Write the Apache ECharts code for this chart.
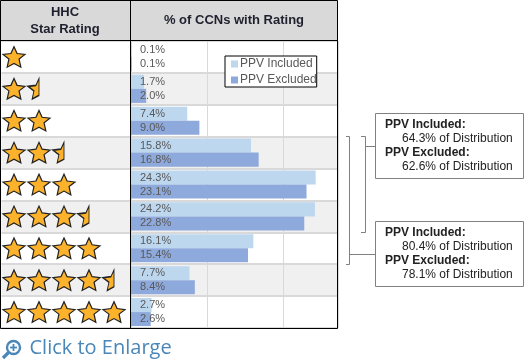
<!DOCTYPE html>
<html><head><meta charset="utf-8">
<style>html,body{margin:0;padding:0;background:#fff}#c{width:524px;height:361px}</style>
<script src="https://cdn.jsdelivr.net/npm/echarts@6/dist/echarts.min.js"></script>
</head><body><div id="c"></div>
<script>
const categories = ['1','1.5','2','2.5','3','3.5','4','4.5','5'];
const ratings = [1,1.5,2,2.5,3,3.5,4,4.5,5];
const ppvIncluded = [0.1,1.7,7.4,15.8,24.3,24.2,16.1,7.7,2.7];
const ppvExcluded = [0.1,2.0,9.0,16.8,23.1,22.8,15.4,8.4,2.6];
const seriesNames = ['PPV Included','PPV Excluded'];
const summaryTop = ['PPV Included:','64.3% of Distribution','PPV Excluded:','62.6% of Distribution'];
const summaryBottom = ['PPV Included:','80.4% of Distribution','PPV Excluded:','78.1% of Distribution'];

const STAR = 'path://M50 0L64 33L100 38L73 60L81 100L50 82L19 100L27 60L0 38L36 33Z';
const HALF = 'path://M50 0L36 33L0 38L27 60L19 100L50 82L50 0Z';
const fullStars = [], halfStars = [];
ratings.forEach((r,row)=>{
  const n = Math.floor(r);
  for(let k=0;k<n;k++) fullStars.push([k+0.5,row]);
  if(r>n) halfStars.push([n+0.5,row]);
});
const grey = '#d9d9d9', dark='#1f1f2e', txt='#222', line='#808080', link='#4a86b8';
const label = {show:true,position:'insideLeft',distance:9,color:'#595959',fontSize:11,fontFamily:'Liberation Sans',
  formatter:p=>p.value.toFixed(1)+'%'};
function yAxis(i){return {type:'category',gridIndex:i,data:categories,inverse:true,
  axisLine:{show:false},axisTick:{show:false},axisLabel:{show:false},
  splitLine:{show:true,lineStyle:{color:grey,width:2}},
  splitArea:{show:true,areaStyle:{color:['#fff','#f0f0f0']}}};}
function boxText(lines,y0,step){
  return lines.map((t,i)=>({type:'text',z:20,style:{text:t,x:i%2?402:385,y:y0+i*step,
    font:(i%2?'':'bold ')+'12px "Liberation Sans"',fill:txt,textVerticalAlign:'middle'}}));
}
function poly(points,color){return {type:'polyline',z:20,shape:{points},style:{stroke:color||line,lineWidth:1,fill:null}};}
const chart = echarts.init(document.getElementById('c'),null,{renderer:'canvas'});
chart.setOption({
  animation:false,
  grid:[{left:1.5,top:41,width:129,height:287},{left:131,top:41,width:207,height:287}],
  xAxis:[
    {type:'value',gridIndex:0,min:0,max:5.16,show:false},
    {type:'value',gridIndex:1,min:0,max:27.24,interval:10,axisLine:{show:false},axisTick:{show:false},axisLabel:{show:false},
     splitLine:{show:true,lineStyle:{color:grey,width:1}}}
  ],
  yAxis:[yAxis(0),yAxis(1)],
  legend:{data:seriesNames,left:225,top:56,orient:'vertical',itemWidth:7,itemHeight:7,itemGap:4,
    padding:[2,0,1,6],borderColor:'#000',borderWidth:1,backgroundColor:'#fff',
    icon:'rect',itemStyle:{borderWidth:0},
    textStyle:{color:'#595959',fontSize:12,fontFamily:'Liberation Sans',padding:[0,5,0,-3]}},
  series:[
    {name:seriesNames[0],type:'bar',xAxisIndex:1,yAxisIndex:1,data:ppvIncluded,barGap:0,barCategoryGap:'12%',
      itemStyle:{color:'#bdd7ee'},label},
    {name:seriesNames[1],type:'bar',xAxisIndex:1,yAxisIndex:1,data:ppvExcluded,
      itemStyle:{color:'#8ea9db'},label},
    {name:'stars',type:'scatter',xAxisIndex:0,yAxisIndex:0,data:fullStars,symbol:STAR,symbolSize:[22,20.5],
      itemStyle:{color:'#fdb22b',borderColor:'#222',borderWidth:1.2,opacity:1}},
    {name:'half',type:'scatter',xAxisIndex:0,yAxisIndex:0,data:halfStars,symbol:HALF,symbolSize:[11,20.5],symbolOffset:[-5.5,0],
      itemStyle:{color:'#fdb22b',borderColor:'#222',borderWidth:1.2,opacity:1}}
  ],
  graphic:[
    {type:'rect',z:5,shape:{x:0,y:0,width:338,height:40},style:{fill:'#d9d9d9'}},
    {type:'text',z:20,style:{text:'HHC',x:65,y:12,font:'bold 13px "Liberation Sans"',fill:dark,textAlign:'center',textVerticalAlign:'middle'}},
    {type:'text',z:20,style:{text:'Star Rating',x:65,y:29,font:'bold 13px "Liberation Sans"',fill:dark,textAlign:'center',textVerticalAlign:'middle'}},
    {type:'text',z:20,style:{text:'% of CCNs with Rating',x:234,y:20,font:'bold 13px "Liberation Sans"',fill:dark,textAlign:'center',textVerticalAlign:'middle'}},
    {type:'rect',z:21,shape:{x:0.5,y:0.5,width:337,height:328},style:{fill:null,stroke:'#000',lineWidth:1}},
    {type:'line',z:21,shape:{x1:0,y1:40.5,x2:338,y2:40.5},style:{stroke:'#000',lineWidth:1}},
    {type:'line',z:21,shape:{x1:130.5,y1:0,x2:130.5,y2:328},style:{stroke:'#000',lineWidth:1}},
    poly([[346,136.5],[349.5,136.5],[349.5,264.5],[346,264.5]]),
    poly([[349.5,254.5],[375,254.5]]),
    poly([[361,136.5],[365.5,136.5],[365.5,232.5],[361,232.5]]),
    poly([[365.5,146.5],[375,146.5]]),
    {type:'rect',z:20,shape:{x:375.5,y:113.5,width:148,height:65},style:{fill:'#fff',stroke:line,lineWidth:1}},
    {type:'rect',z:20,shape:{x:375.5,y:221.5,width:148,height:65},style:{fill:'#fff',stroke:line,lineWidth:1}},
    ...boxText(summaryTop,124.5,14),
    ...boxText(summaryBottom,232.5,14),
    {type:'circle',z:20,shape:{cx:13.5,cy:347.5,r:6.5},style:{fill:null,stroke:link,lineWidth:2.4}},
    {type:'line',z:20,shape:{x1:8.5,y1:352.5,x2:3,y2:358},style:{stroke:link,lineWidth:3.2}},
    {type:'line',z:20,shape:{x1:10,y1:347.5,x2:17,y2:347.5},style:{stroke:link,lineWidth:1.8}},
    {type:'line',z:20,shape:{x1:13.5,y1:344,x2:13.5,y2:351},style:{stroke:link,lineWidth:1.8}},
    {type:'text',z:20,style:{text:'Click to Enlarge',x:29.5,y:348,font:'20px "Open Sans"',fill:link,textVerticalAlign:'middle'}}
  ]
});
</script></body></html>
